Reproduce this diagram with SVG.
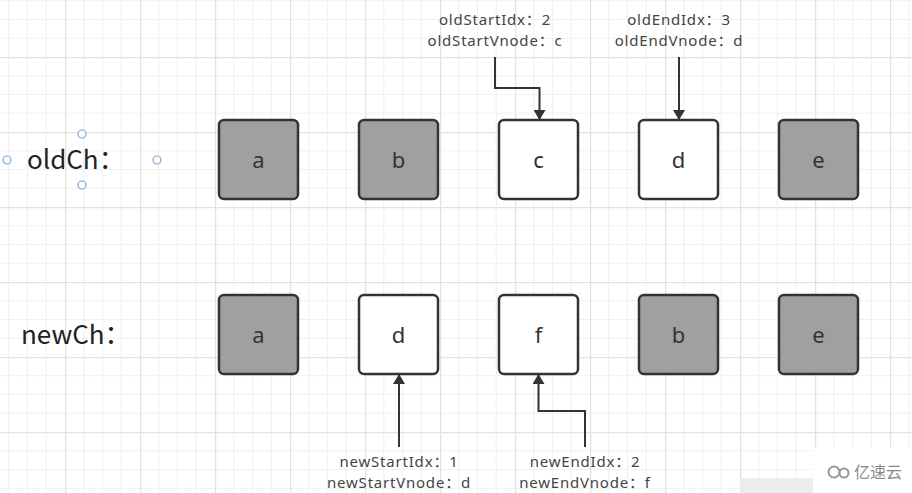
<svg xmlns="http://www.w3.org/2000/svg" width="912" height="493" viewBox="0 0 912 493">
<style>
.box{stroke:#333;stroke-width:2.5}
.g{fill:#a0a0a0}
.w{fill:#fff}
.bt{font-family:"Noto Sans","Liberation Sans","Noto Sans CJK SC",sans-serif;font-size:22px;fill:#333;text-anchor:middle}
.lbl{font-family:"Noto Sans","Noto Sans CJK SC",sans-serif;font-size:15px;letter-spacing:0.8px;fill:#444;text-anchor:middle}
.ch{font-family:"Noto Sans CJK SC","Liberation Sans",sans-serif;font-size:26px;fill:#222}
.con{fill:none;stroke:#333;stroke-width:2}
.h{fill:#fff;stroke:#7ea6d3;stroke-width:1.2}
</style>
<defs>
<pattern id="grid" width="75" height="75" patternUnits="userSpaceOnUse" x="-10" y="-18">
<path d="M18.75 0V75M37.5 0V75M56.25 0V75M0 18.75H75M0 37.5H75M0 56.25H75" stroke="#f1f1f1" stroke-width="1.2"/>
<path d="M0.5 0V75M0 0.5H75" stroke="#e2e2e2" stroke-width="1.5"/>
</pattern>
<marker id="arr" viewBox="0 0 10 12" refX="9" refY="6" markerWidth="11" markerHeight="12" markerUnits="userSpaceOnUse" orient="auto">
<path d="M0 0L10 6L0 12Z" fill="#333"/>
</marker>
</defs>
<rect width="912" height="493" fill="#fff"/>
<rect width="912" height="493" fill="url(#grid)"/>

<g id="oldCh-label">
<text class="ch" x="27" y="169">oldCh：</text>
<circle class="h" cx="82" cy="134" r="4"/>
<circle class="h" cx="7" cy="160" r="4"/>
<circle class="h" cx="157" cy="160" r="4"/>
<circle class="h" cx="82" cy="185" r="4"/>
</g>
<g id="newCh-label">
<text class="ch" x="21" y="344">newCh：</text>
</g>

<g id="old-a"><rect class="box g" x="219" y="120" width="79" height="79" rx="5"/><text class="bt" x="258.5" y="168">a</text></g>
<g id="old-b"><rect class="box g" x="359" y="120" width="79" height="79" rx="5"/><text class="bt" x="398.5" y="168">b</text></g>
<g id="old-c"><rect class="box w" x="499" y="120" width="79" height="79" rx="5"/><text class="bt" x="538.5" y="168">c</text></g>
<g id="old-d"><rect class="box w" x="639" y="120" width="79" height="79" rx="5"/><text class="bt" x="678.5" y="168">d</text></g>
<g id="old-e"><rect class="box g" x="779" y="120" width="79" height="79" rx="5"/><text class="bt" x="818.5" y="168">e</text></g>

<g id="new-a"><rect class="box g" x="219" y="295" width="79" height="79" rx="5"/><text class="bt" x="258.5" y="343">a</text></g>
<g id="new-d"><rect class="box w" x="359" y="295" width="79" height="79" rx="5"/><text class="bt" x="398.5" y="343">d</text></g>
<g id="new-f"><rect class="box w" x="499" y="295" width="79" height="79" rx="5"/><text class="bt" x="538.5" y="343">f</text></g>
<g id="new-b"><rect class="box g" x="639" y="295" width="79" height="79" rx="5"/><text class="bt" x="678.5" y="343">b</text></g>
<g id="new-e"><rect class="box g" x="779" y="295" width="79" height="79" rx="5"/><text class="bt" x="818.5" y="343">e</text></g>

<g id="oldStart-label"><text class="lbl" x="495" y="25">oldStartIdx：2</text><text class="lbl" x="495" y="46">oldStartVnode：c</text></g>
<g id="oldEnd-label"><text class="lbl" x="679" y="25">oldEndIdx：3</text><text class="lbl" x="679" y="46">oldEndVnode：d</text></g>
<g id="newStart-label"><text class="lbl" x="399" y="467">newStartIdx：1</text><text class="lbl" x="399" y="488">newStartVnode：d</text></g>
<g id="newEnd-label"><text class="lbl" x="585" y="467">newEndIdx：2</text><text class="lbl" x="585" y="488">newEndVnode：f</text></g>

<g id="connectors">
<path class="con" d="M495 57V88H539.5V119" marker-end="url(#arr)"/>
<path class="con" d="M679 57V119" marker-end="url(#arr)"/>
<path class="con" d="M399 447V375" marker-end="url(#arr)"/>
<path class="con" d="M585 447V411H538.5V375" marker-end="url(#arr)"/>
</g>

<g id="watermark">
<rect x="813" y="448" width="99" height="45" fill="#fff"/>
<rect x="740" y="478" width="73" height="15" fill="#ececec"/>
<circle cx="834" cy="472" r="5.5" fill="none" stroke="#999" stroke-width="2"/>
<circle cx="844" cy="473" r="4.5" fill="none" stroke="#999" stroke-width="2"/>
<text x="854" y="478" font-family="Noto Sans CJK SC,sans-serif" font-size="16" fill="#8a8a8a">亿速云</text>
</g>
</svg>
